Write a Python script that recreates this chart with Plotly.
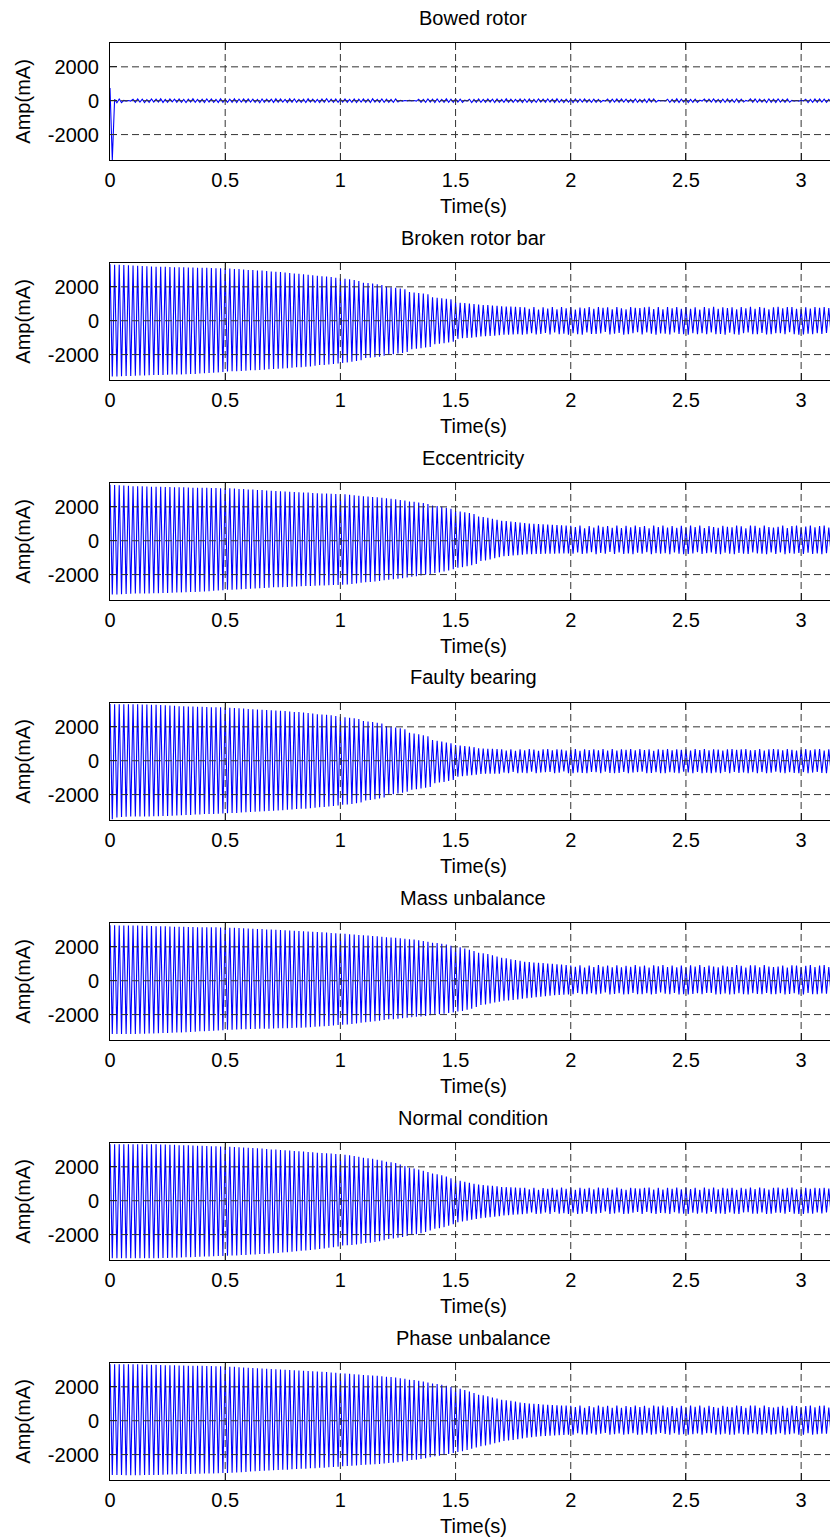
import plotly.graph_objects as go

# ---------------- data ----------------
TITLES = ["Bowed rotor", "Broken rotor bar", "Eccentricity", "Faulty bearing",
          "Mass unbalance", "Normal condition", "Phase unbalance"]
X_LABEL = "Time(s)"
Y_LABEL = "Amp(mA)"
XTICKS = [0, 0.5, 1, 1.5, 2, 2.5, 3]
XTICK_LABELS = ["0", "0.5", "1", "1.5", "2", "2.5", "3"]
YTICKS = [-2000, 0, 2000]
YTICK_LABELS = ["-2000", "0", "2000"]
X_RANGE = [0, 3.16]
Y_RANGE = [-3500, 3390]

SAMPLE_DT = 0.01   # s between successive half-cycle peaks (50 Hz supply)
AMP_UNIT = 10      # stored peak values are in units of 10 mA

BOWED_ROTOR = [
    75, -350, 9, -12, 10, -11, 2, -2, 1, -2,
    8, -10, 11, -8, 9, -11, 7, -9, 10, -8,
    9, -8, 12, -10, 8, -9, 11, -7, 9, -10,
    10, -9, 8, -11, 9, -8, 12, -9, 8, -10,
    9, -11, 10, -8, 11, -9, 8, -10, 12, -9,
    8, -10, 9, -9, 11, -11, 9, -8, 10, -10,
    11, -8, 9, -10, 8, -12, 10, -9, 9, -8,
    9, -10, 12, -9, 10, -8, 8, -11, 11, -9,
    10, -9, 8, -10, 9, -11, 11, -8, 9, -10,
    8, -11, 10, -9, 12, -8, 9, -10, 10, -9,
    9, -8, 11, -10, 8, -9, 10, -11, 9, -8,
    10, -9, 9, -11, 11, -8, 8, -10, 10, -9,
    9, -10, 8, -9, 10, -8, 2, -2, 1, -1,
    2, -1, 1, -2, 9, -10, 8, -9, 11, -8,
    9, -11, 10, -8, 8, -10, 11, -9, 9, -10,
    10, -8, 9, -10, 3, -2, 9, -11, 8, -9,
    11, -9, 8, -10, 10, -8, 9, -11, 10, -9,
    8, -10, 11, -9, 9, -10, 8, -8, 10, -11,
    9, -9, 10, -11, 8, -10, 11, -8, 9, -10,
    10, -8, 9, -10, 11, -9, 8, -11, 9, -8,
    8, -11, 10, -9, 9, -8, 11, -10, 8, -9,
    9, -10, 8, -9, 2, -2, 10, -11, 9, -8,
    11, -9, 10, -8, 9, -10, 8, -11, 10, -9,
    8, -10, 9, -11, 11, -8, 10, -9, 2, -1,
    1, -2, 9, -10, 8, -9, 11, -10, 9, -8,
    10, -11, 8, -9, 9, -10, 3, -2, 10, -8,
    9, -8, 11, -10, 8, -11, 9, -9, 10, -10,
    8, -9, 10, -11, 9, -8, 2, -3, 11, -9,
    10, -10, 9, -8, 8, -11, 10, -9, 9, -10,
    11, -8, 8, -10, 10, -9, 2, -2, 1, -2,
    2, -1, 9, -11, 8, -10, 10, -9, 11, -8,
    9, -10, 8, -9, 10, -11, 9, -8, 10, -9,
]

BROKEN_ROTOR_BAR = [
    333, -330, 331, -329, 330, -328, 329, -327, 327, -326,
    326, -325, 324, -324, 323, -323, 322, -322, 320, -321,
    319, -320, 318, -320, 318, -319, 317, -318, 316, -318,
    315, -317, 315, -316, 314, -315, 314, -314, 313, -312,
    312, -310, 312, -309, 311, -307, 310, -305, 310, -303,
    309, -300, 308, -299, 306, -298, 305, -297, 303, -295,
    300, -293, 299, -292, 297, -291, 296, -289, 293, -287,
    290, -285, 289, -284, 287, -282, 285, -280, 282, -278,
    278, -275, 277, -274, 275, -272, 272, -270, 269, -266,
    265, -262, 263, -261, 261, -259, 258, -256, 254, -253,
    250, -250, 247, -246, 244, -242, 240, -238, 235, -233,
    224, -220, 222, -218, 219, -215, 215, -212, 211, -207,
    200, -200, 198, -198, 194, -194, 190, -190, 185, -185,
    170, -168, 167, -165, 163, -162, 160, -158, 156, -155,
    139, -139, 136, -136, 133, -133, 129, -128, 126, -124,
    109, -107, 106, -104, 104, -102, 101, -100, 99, -98,
    95, -93, 93, -91, 92, -90, 90, -88, 88, -86,
    85, -83, 84, -82, 83, -81, 82, -80, 80, -82,
    79, -80, 70, -74, 80, -81, 66, -78, 79, -72,
    72, -81, 80, -70, 68, -79, 81, -76, 74, -82,
    80, -73, 66, -80, 78, -82, 73, -69, 80, -78,
    70, -78, 81, -75, 76, -66, 79, -81, 68, -77,
    81, -72, 74, -82, 67, -79, 80, -74, 77, -68,
    75, -81, 79, -69, 82, -77, 69, -82, 80, -75,
    68, -76, 80, -81, 73, -70, 81, -78, 70, -80,
    80, -82, 71, -74, 79, -80, 66, -73, 81, -79,
    74, -69, 82, -80, 70, -78, 79, -82, 75, -71,
    79, -79, 67, -82, 80, -73, 74, -70, 82, -80,
    71, -80, 81, -72, 76, -81, 68, -79, 79, -74,
    82, -74, 73, -79, 80, -68, 81, -80, 70, -82,
    69, -81, 79, -76, 72, -80, 80, -73, 77, -78,
    80, -72, 75, -81, 81, -77, 69, -80, 79, -70,
]

ECCENTRICITY = [
    330, -318, 329, -317, 327, -316, 326, -315, 324, -313,
    322, -312, 322, -312, 321, -311, 320, -311, 319, -310,
    318, -310, 318, -309, 317, -308, 317, -307, 316, -306,
    315, -305, 315, -304, 314, -303, 313, -302, 313, -301,
    312, -300, 312, -298, 311, -296, 311, -294, 310, -292,
    310, -290, 309, -289, 308, -288, 306, -287, 305, -285,
    303, -283, 302, -282, 300, -280, 299, -279, 297, -277,
    295, -275, 294, -275, 292, -274, 291, -273, 289, -272,
    287, -270, 286, -269, 285, -268, 284, -267, 282, -266,
    280, -265, 279, -264, 278, -263, 277, -262, 276, -261,
    275, -260, 274, -258, 271, -255, 269, -252, 266, -248,
    262, -245, 261, -243, 258, -240, 256, -237, 253, -234,
    250, -230, 248, -228, 245, -225, 241, -221, 237, -217,
    232, -212, 230, -209, 226, -205, 222, -201, 216, -196,
    208, -190, 205, -187, 200, -182, 195, -176, 188, -169,
    176, -160, 173, -156, 168, -150, 163, -144, 157, -137,
    143, -120, 140, -116, 136, -110, 130, -104, 124, -98,
    118, -92, 116, -90, 113, -87, 110, -85, 107, -82,
    104, -80, 102, -79, 100, -78, 98, -78, 97, -77,
    95, -76, 94, -76, 92, -75, 91, -75, 90, -75,
    88, -76, 80, -70, 89, -78, 74, -75, 86, -68,
    78, -79, 90, -72, 82, -77, 87, -66, 76, -78,
    89, -70, 75, -78, 88, -75, 79, -79, 90, -71,
    80, -77, 87, -68, 74, -79, 89, -74, 81, -76,
    90, -73, 78, -79, 86, -70, 77, -77, 88, -79,
    76, -78, 89, -75, 80, -68, 90, -78, 75, -73,
    87, -69, 81, -78, 77, -79, 88, -71, 82, -77,
    79, -79, 90, -72, 85, -76, 74, -78, 89, -70,
    88, -75, 76, -77, 90, -79, 81, -69, 78, -78,
    82, -70, 89, -79, 75, -74, 87, -77, 90, -72,
    77, -78, 83, -71, 89, -78, 79, -75, 86, -79,
    90, -74, 78, -77, 81, -70, 88, -79, 76, -76,
]

FAULTY_BEARING = [
    335, -345, 334, -335, 334, -332, 333, -331, 333, -330,
    333, -330, 333, -330, 332, -329, 332, -329, 331, -328,
    330, -328, 329, -327, 327, -326, 326, -325, 324, -324,
    322, -322, 321, -321, 320, -320, 320, -318, 319, -317,
    318, -315, 317, -315, 316, -314, 315, -313, 315, -312,
    314, -310, 313, -309, 311, -308, 310, -306, 308, -304,
    305, -302, 304, -301, 302, -300, 301, -299, 299, -297,
    298, -295, 297, -294, 295, -292, 293, -290, 291, -288,
    288, -285, 287, -284, 285, -283, 282, -281, 279, -278,
    275, -275, 273, -273, 271, -270, 268, -267, 264, -264,
    259, -260, 257, -258, 254, -255, 250, -251, 246, -246,
    235, -235, 232, -232, 228, -228, 224, -223, 219, -217,
    204, -200, 200, -198, 196, -194, 191, -189, 186, -183,
    165, -172, 161, -168, 156, -164, 150, -160, 144, -155,
    122, -133, 118, -129, 113, -125, 108, -120, 103, -114,
    92, -94, 90, -92, 87, -89, 84, -86, 80, -83,
    73, -78, 72, -77, 71, -77, 70, -76, 69, -76,
    68, -70, 60, -74, 67, -66, 58, -73, 68, -71,
    62, -73, 69, -65, 66, -74, 59, -70, 68, -68,
    69, -66, 61, -73, 68, -71, 66, -64, 60, -74,
    64, -74, 69, -69, 59, -72, 68, -74, 63, -66,
    68, -68, 62, -74, 69, -65, 60, -72, 69, -73,
    60, -72, 68, -66, 64, -74, 69, -70, 61, -67,
    69, -65, 63, -73, 68, -72, 59, -67, 68, -74,
    65, -74, 69, -68, 61, -71, 68, -74, 64, -65,
    68, -69, 60, -74, 69, -66, 63, -73, 69, -71,
    61, -73, 68, -70, 66, -74, 60, -66, 68, -74,
    69, -66, 64, -72, 68, -69, 69, -74, 62, -68,
    63, -74, 69, -67, 60, -73, 67, -71, 69, -65,
    68, -70, 62, -74, 69, -68, 64, -72, 60, -74,
    66, -67, 69, -73, 61, -70, 68, -66, 69, -72,
    60, -74, 67, -69, 69, -72, 62, -74, 68, -67,
]

MASS_UNBALANCE = [
    327, -314, 327, -314, 326, -314, 326, -314, 326, -314,
    326, -314, 326, -313, 325, -313, 324, -312, 323, -311,
    322, -310, 321, -309, 321, -308, 320, -307, 319, -306,
    318, -305, 318, -304, 317, -302, 317, -301, 316, -299,
    316, -298, 316, -297, 315, -295, 315, -294, 314, -292,
    314, -290, 313, -289, 312, -288, 311, -287, 309, -286,
    308, -285, 307, -285, 306, -284, 305, -283, 303, -283,
    302, -282, 301, -281, 300, -281, 298, -280, 296, -279,
    295, -278, 294, -277, 292, -276, 291, -274, 289, -272,
    287, -270, 286, -269, 284, -267, 282, -265, 280, -262,
    278, -260, 277, -258, 275, -255, 273, -252, 270, -248,
    268, -245, 267, -242, 264, -239, 262, -236, 259, -232,
    256, -228, 255, -227, 253, -225, 250, -222, 248, -218,
    245, -215, 243, -213, 239, -211, 235, -208, 230, -204,
    224, -200, 222, -198, 218, -195, 213, -191, 207, -187,
    200, -182, 197, -178, 190, -172, 183, -165, 175, -155,
    165, -143, 162, -140, 157, -135, 150, -129, 143, -124,
    135, -118, 132, -116, 127, -113, 122, -110, 117, -107,
    112, -104, 110, -101, 108, -97, 106, -94, 104, -91,
    102, -88, 100, -86, 97, -84, 95, -82, 92, -81,
    90, -80, 82, -72, 91, -79, 78, -80, 89, -74,
    80, -81, 92, -76, 84, -70, 90, -81, 79, -78,
    91, -74, 79, -81, 88, -79, 82, -72, 92, -80,
    83, -80, 90, -73, 78, -81, 91, -78, 85, -70,
    92, -77, 81, -80, 89, -72, 79, -81, 90, -79,
    78, -81, 91, -78, 84, -74, 92, -80, 80, -72,
    90, -72, 83, -81, 79, -80, 90, -75, 84, -81,
    81, -80, 92, -74, 88, -79, 78, -81, 91, -73,
    91, -78, 79, -80, 92, -72, 83, -80, 80, -79,
    84, -73, 90, -81, 78, -78, 91, -74, 89, -81,
    79, -81, 88, -72, 92, -80, 81, -79, 90, -75,
    92, -76, 80, -80, 85, -73, 90, -81, 78, -78,
]

NORMAL_CONDITION = [
    333, -340, 333, -340, 333, -340, 333, -340, 333, -340,
    333, -340, 333, -340, 333, -339, 333, -339, 333, -339,
    333, -339, 332, -338, 332, -338, 331, -337, 330, -336,
    328, -335, 328, -334, 327, -333, 326, -332, 325, -331,
    324, -330, 323, -329, 322, -328, 321, -327, 320, -326,
    319, -325, 318, -324, 317, -323, 315, -321, 314, -320,
    312, -318, 311, -317, 309, -315, 308, -314, 306, -312,
    303, -310, 302, -308, 300, -306, 298, -304, 296, -301,
    293, -298, 292, -296, 290, -294, 288, -291, 286, -288,
    283, -285, 282, -282, 280, -278, 278, -274, 276, -270,
    273, -265, 271, -263, 268, -261, 264, -258, 259, -254,
    253, -250, 251, -248, 247, -244, 242, -239, 237, -233,
    230, -226, 227, -223, 222, -219, 214, -214, 205, -208,
    194, -202, 190, -198, 184, -192, 177, -185, 169, -176,
    160, -166, 156, -162, 150, -156, 143, -148, 133, -139,
    120, -127, 117, -123, 112, -118, 106, -112, 100, -107,
    95, -103, 93, -100, 90, -97, 88, -94, 85, -91,
    81, -87, 80, -85, 79, -83, 78, -81, 77, -79,
    76, -77, 68, -70, 77, -78, 64, -76, 75, -69,
    70, -78, 77, -67, 66, -77, 78, -74, 71, -78,
    77, -70, 64, -78, 76, -77, 70, -66, 77, -76,
    67, -76, 78, -72, 73, -64, 76, -78, 66, -75,
    78, -69, 71, -78, 65, -76, 77, -71, 74, -66,
    72, -78, 76, -67, 78, -74, 66, -78, 77, -72,
    66, -73, 77, -78, 70, -68, 78, -75, 68, -77,
    77, -78, 69, -71, 76, -77, 64, -70, 78, -76,
    71, -67, 78, -77, 68, -75, 76, -78, 72, -69,
    76, -76, 65, -78, 77, -70, 71, -68, 78, -77,
    69, -77, 78, -70, 73, -78, 66, -76, 76, -71,
    78, -71, 70, -76, 77, -66, 78, -77, 68, -78,
    67, -78, 76, -73, 70, -77, 77, -70, 74, -75,
    77, -69, 72, -78, 78, -74, 66, -77, 76, -68,
]

PHASE_UNBALANCE = [
    333, -320, 333, -321, 333, -321, 333, -322, 333, -322,
    333, -322, 333, -322, 332, -321, 332, -321, 331, -320,
    330, -320, 329, -319, 328, -318, 328, -317, 327, -316,
    326, -315, 326, -315, 325, -314, 325, -313, 324, -313,
    324, -312, 323, -311, 323, -311, 322, -310, 321, -309,
    320, -308, 319, -307, 318, -306, 316, -304, 314, -302,
    312, -300, 311, -299, 310, -297, 308, -296, 307, -294,
    305, -292, 304, -291, 303, -290, 301, -289, 300, -287,
    298, -285, 297, -284, 295, -283, 294, -281, 292, -280,
    290, -278, 289, -277, 287, -275, 285, -273, 283, -271,
    280, -269, 279, -268, 277, -266, 275, -264, 273, -262,
    270, -260, 269, -259, 267, -257, 265, -255, 263, -253,
    260, -250, 258, -248, 255, -245, 251, -241, 247, -237,
    242, -232, 240, -230, 236, -226, 231, -221, 226, -216,
    220, -210, 217, -207, 212, -202, 206, -196, 199, -190,
    192, -184, 188, -180, 181, -173, 173, -166, 163, -158,
    153, -150, 150, -146, 144, -140, 137, -133, 131, -127,
    124, -120, 121, -117, 117, -113, 113, -109, 108, -105,
    104, -100, 102, -98, 100, -95, 98, -92, 96, -90,
    94, -88, 93, -87, 91, -86, 90, -84, 89, -83,
    88, -82, 80, -74, 89, -81, 76, -82, 87, -75,
    79, -83, 90, -77, 82, -72, 88, -82, 77, -80,
    89, -75, 77, -83, 86, -80, 80, -74, 90, -82,
    81, -82, 88, -74, 76, -83, 89, -79, 83, -72,
    90, -78, 79, -82, 87, -73, 77, -83, 88, -80,
    76, -83, 89, -79, 82, -75, 90, -82, 78, -73,
    88, -73, 81, -83, 77, -81, 88, -76, 82, -82,
    79, -82, 90, -75, 86, -80, 76, -83, 89, -74,
    89, -79, 77, -82, 90, -73, 81, -82, 78, -80,
    82, -74, 88, -83, 76, -79, 89, -75, 87, -82,
    77, -83, 86, -73, 90, -82, 79, -80, 88, -76,
    90, -77, 78, -82, 83, -74, 88, -83, 76, -79,
]

SERIES = [BOWED_ROTOR, BROKEN_ROTOR_BAR, ECCENTRICITY, FAULTY_BEARING,
          MASS_UNBALANCE, NORMAL_CONDITION, PHASE_UNBALANCE]

# ---------------- layout constants (pixels, page offset of 8 px removed) ----------------
OFF = 8
W, H = 838 - OFF, 1540 - OFF
ML = 110 - OFF
PITCH = 220
AX_TOP, AX_BOT = 43.3 - OFF, 160.0 - OFF
TITLE_Y, XLAB_Y = 17.5 - OFF, 206.0 - OFF
CENTER_X = 473 - OFF
YLAB_X = 23 - OFF

FONT = dict(family="Liberation Sans, Arial, Helvetica, sans-serif", size=20, color="black")
GRID = dict(color="#333333", width=1, dash="7px,4px")


def py(px):
    return 1 - px / H


def pxx(px):
    return (px - ML) / (W - ML)


fig = go.Figure()
layout = dict(width=W, height=H, margin=dict(l=ML, r=0, t=0, b=0),
              paper_bgcolor="white", plot_bgcolor="white", showlegend=False,
              font=FONT)
shapes, annotations = [], []

for k, (title, vals) in enumerate(zip(TITLES, SERIES)):
    sfx = "" if k == 0 else str(k + 1)
    xs = [i * SAMPLE_DT for i in range(len(vals))]
    ys = [v * AMP_UNIT for v in vals]
    fig.add_trace(go.Scatter(x=xs, y=ys, mode="lines", xaxis=f"x{sfx}", yaxis=f"y{sfx}",
                             line=dict(color="#0000ff", width=1.1), hoverinfo="skip"))
    top = AX_TOP + PITCH * k
    bot = AX_BOT + PITCH * k
    layout[f"xaxis{sfx}"] = dict(domain=[0, 1], range=X_RANGE, anchor=f"y{sfx}",
                                 tickmode="array", tickvals=XTICKS, ticktext=XTICK_LABELS,
                                 ticks="inside", ticklen=7, tickcolor="black", tickwidth=1,
                                 showline=True, linecolor="black", linewidth=1, mirror="ticks",
                                 showgrid=False, zeroline=False, layer="above traces",
                                 tickfont=FONT, ticklabelstandoff=2, automargin=False)
    layout[f"yaxis{sfx}"] = dict(domain=[py(bot), py(top)], range=Y_RANGE, anchor=f"x{sfx}",
                                 tickmode="array", tickvals=YTICKS, ticktext=YTICK_LABELS,
                                 ticks="inside", ticklen=7, tickcolor="black", tickwidth=1,
                                 showline=True, linecolor="black", linewidth=1, mirror=False,
                                 showgrid=False, zeroline=False, layer="above traces",
                                 tickfont=FONT, ticklabelstandoff=6, automargin=False)
    for xt in XTICKS[1:]:
        shapes.append(dict(type="line", xref=f"x{sfx}", yref=f"y{sfx} domain", x0=xt, x1=xt,
                           y0=0, y1=1, line=GRID, layer="above"))
    for yt in YTICKS:
        shapes.append(dict(type="line", xref=f"x{sfx} domain", yref=f"y{sfx}", x0=0, x1=1,
                           y0=yt, y1=yt, line=GRID, layer="above"))
    annotations.append(dict(text=title, xref="paper", yref="paper", x=pxx(CENTER_X),
                            y=py(TITLE_Y + PITCH * k), xanchor="center", yanchor="middle",
                            showarrow=False, font=FONT))
    annotations.append(dict(text=X_LABEL, xref="paper", yref="paper", x=pxx(CENTER_X),
                            y=py(XLAB_Y + PITCH * k), xanchor="center", yanchor="middle",
                            showarrow=False, font=FONT))
    annotations.append(dict(text=Y_LABEL, xref="paper", yref="paper", x=pxx(YLAB_X),
                            y=py((top + bot) / 2), xanchor="center", yanchor="middle",
                            textangle=-90, showarrow=False, font=FONT))

layout["shapes"] = shapes
layout["annotations"] = annotations
fig.update_layout(**layout)
fig.write_html("out.html")
